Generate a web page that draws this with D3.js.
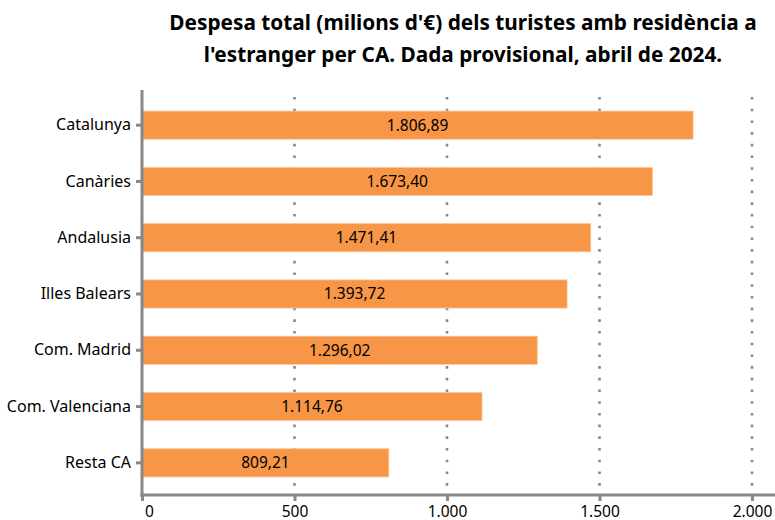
<!DOCTYPE html>
<html><head><meta charset="utf-8">
<script src="https://cdn.jsdelivr.net/npm/d3@7"></script>
<style>body{margin:0;background:#fff;}svg{display:block;font-family:"Noto Sans",sans-serif;}</style>
</head><body>
<svg id="c" width="775" height="520"></svg>
<script>
const categories = ["Catalunya","Canàries","Andalusia","Illes Balears","Com. Madrid","Com. Valenciana","Resta CA"];
const values = [1806.89,1673.40,1471.41,1393.72,1296.02,1114.76,809.21];
const xTicks = [0,500,1000,1500,2000];
const titleLines = ["Despesa total (milions d'€) dels turistes amb residència a","l'estranger per CA. Dada provisional, abril de 2024."];

const svg = d3.select("#c");
const fmt = d3.formatLocale({decimal:",",thousands:".",grouping:[3],currency:["","€"]});
const fVal = fmt.format(",.2f");
const fTick = fmt.format(",.0f");

const x = d3.scaleLinear().domain([0,2000]).range([142,752]);
const y = d3.scaleBand().domain(categories).range([97,491]).paddingInner(0.5).paddingOuter(0.25);

// title
svg.append("g").selectAll("text").data(titleLines).join("text")
  .attr("x",463).attr("y",(d,i)=>30+i*31.5).attr("text-anchor","middle")
  .attr("font-size",20.8).attr("font-weight","bold").attr("fill","#000").text(d=>d);

// grid
svg.append("g").selectAll("line").data(xTicks.filter(d=>d>0)).join("line")
  .attr("x1",d=>x(d)).attr("x2",d=>x(d)).attr("y1",97).attr("y2",493)
  .attr("stroke","#888").attr("stroke-width",2.6).attr("stroke-dasharray","2.6,9.1");

// bars
svg.append("g").selectAll("rect").data(categories).join("rect")
  .attr("x",x(0)).attr("y",d=>y(d)).attr("height",y.bandwidth())
  .attr("width",(d,i)=>x(values[i])-x(0))
  .attr("fill","#f79646").attr("stroke","#fbc59a").attr("stroke-width",0.8);

// value labels
svg.append("g").selectAll("text").data(categories).join("text")
  .attr("x",(d,i)=>(x(0)+x(values[i]))/2).attr("y",d=>y(d)+y.bandwidth()/2)
  .attr("dy","0.35em").attr("text-anchor","middle").attr("font-size",15.5).attr("fill","#000")
  .text((d,i)=>fVal(values[i]));

// y axis
const yAxis = svg.append("g").attr("transform","translate(142,0)")
  .call(d3.axisLeft(y).tickSize(6).tickPadding(5));
yAxis.select(".domain").remove();
yAxis.selectAll(".tick line").attr("stroke","#888").attr("stroke-width",3);
yAxis.selectAll(".tick text").attr("font-size",16).attr("fill","#000").attr("font-family","Noto Sans");
svg.append("line").attr("x1",142).attr("x2",142).attr("y1",90).attr("y2",497)
  .attr("stroke","#888").attr("stroke-width",3);

// x axis
const xAxis = svg.append("g").attr("transform","translate(0,495)")
  .call(d3.axisBottom(x).tickValues(xTicks).tickFormat(fTick).tickSize(6).tickPadding(5));
xAxis.select(".domain").remove();
xAxis.selectAll(".tick line").attr("stroke","#888").attr("stroke-width",3);
xAxis.selectAll(".tick text").attr("font-size",15.5).attr("fill","#000").attr("font-family","Noto Sans");
xAxis.selectAll(".tick text").filter(d=>d===0).attr("dx",7);
svg.append("line").attr("x1",140.5).attr("x2",775).attr("y1",495).attr("y2",495)
  .attr("stroke","#888").attr("stroke-width",3);
</script>
</body></html>
